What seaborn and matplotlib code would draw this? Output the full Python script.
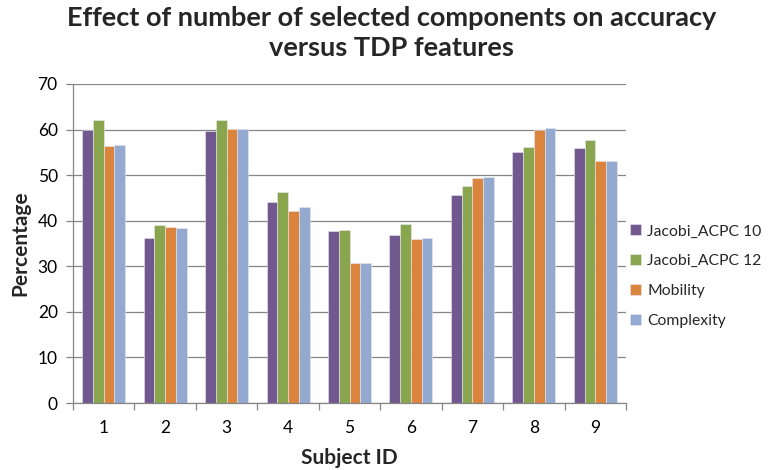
import numpy as np
import pandas as pd
import matplotlib
matplotlib.use("Agg")
import matplotlib.pyplot as plt
import seaborn as sns

subjects = ["1", "2", "3", "4", "5", "6", "7", "8", "9"]
jacobi_acpc_10 = [59.8, 36.1, 59.6, 44.2, 37.7, 36.9, 45.7, 55.1, 55.9]
jacobi_acpc_12 = [62.2, 39.0, 62.2, 46.4, 37.9, 39.3, 47.7, 56.1, 57.8]
mobility = [56.3, 38.6, 60.1, 42.2, 30.7, 35.9, 49.3, 60.0, 53.0]
complexity = [56.6, 38.3, 60.2, 42.9, 30.7, 36.1, 49.5, 60.4, 53.0]
series_names = ["Jacobi_ACPC 10", "Jacobi_ACPC 12", "Mobility", "Complexity"]
y_ticks = [0, 10, 20, 30, 40, 50, 60, 70]

palette = ["#71588F", "#89A54E", "#DB843D", "#93A9CF"]

df = pd.DataFrame({
    "Subject ID": subjects * 4,
    "Percentage": jacobi_acpc_10 + jacobi_acpc_12 + mobility + complexity,
    "Series": [s for s in series_names for _ in subjects],
})

sns.set_theme(style="white")
plt.rcParams["font.family"] = ["Lato", "DejaVu Sans"]

fig = plt.figure(figsize=(7.68, 4.70), dpi=100)
ax = fig.add_axes([73 / 768, 1 - 403 / 470, 553 / 768, 319 / 470])

sns.barplot(data=df, x="Subject ID", y="Percentage", hue="Series",
            palette=palette, width=0.7, ax=ax, saturation=1,
            edgecolor="#e8e8f0", linewidth=0.4, legend=True)

grid_c = "#868686"
ax.set_ylim(0, 70)
ax.set_xlim(-0.5, len(subjects) - 0.5)
ax.set_yticks(y_ticks)
ax.set_yticklabels([str(t) for t in y_ticks])
ax.yaxis.grid(True, color=grid_c, linewidth=0.9)
ax.set_axisbelow(True)
for side in ["top", "right"]:
    ax.spines[side].set_visible(False)
for side in ["left", "bottom"]:
    ax.spines[side].set_color(grid_c)
    ax.spines[side].set_linewidth(0.9)

# category ticks sit between groups, labels at group centres
ax.set_xticks(np.arange(len(subjects)))
ax.set_xticklabels(subjects)
ax.set_xticks(np.arange(len(subjects) + 1) - 0.5, minor=True)
ax.tick_params(axis="x", which="major", length=0, pad=12, labelsize=12.5,
               colors="#000000")
ax.tick_params(axis="x", which="minor", length=5, width=0.9, color=grid_c,
               direction="out", bottom=True)
ax.tick_params(axis="y", which="major", length=5, width=0.9, color=grid_c,
               direction="out", left=True, pad=6, labelsize=12.5,
               colors="#000000")

ax.set_xlabel("Subject ID", fontsize=15, fontweight="bold", labelpad=9)
ax.set_ylabel("Percentage", fontsize=15, fontweight="bold", labelpad=5)

fig.text(0.510, 0.962, "Effect of number of selected components on accuracy",
         ha="center", va="center", fontsize=19.5, fontweight="bold")
fig.text(0.510, 0.898, "versus TDP features",
         ha="center", va="center", fontsize=19.5, fontweight="bold")

handles, labels = ax.get_legend_handles_labels()
ax.legend(handles, labels, loc="center left", bbox_to_anchor=(630 / 768, 1 - 276 / 470),
          bbox_transform=fig.transFigure, frameon=False, fontsize=11.3,
          handlelength=0.7, handleheight=0.7, handletextpad=0.4,
          labelspacing=1.0, borderaxespad=0, borderpad=0)

fig.savefig("out.png", dpi=100)
